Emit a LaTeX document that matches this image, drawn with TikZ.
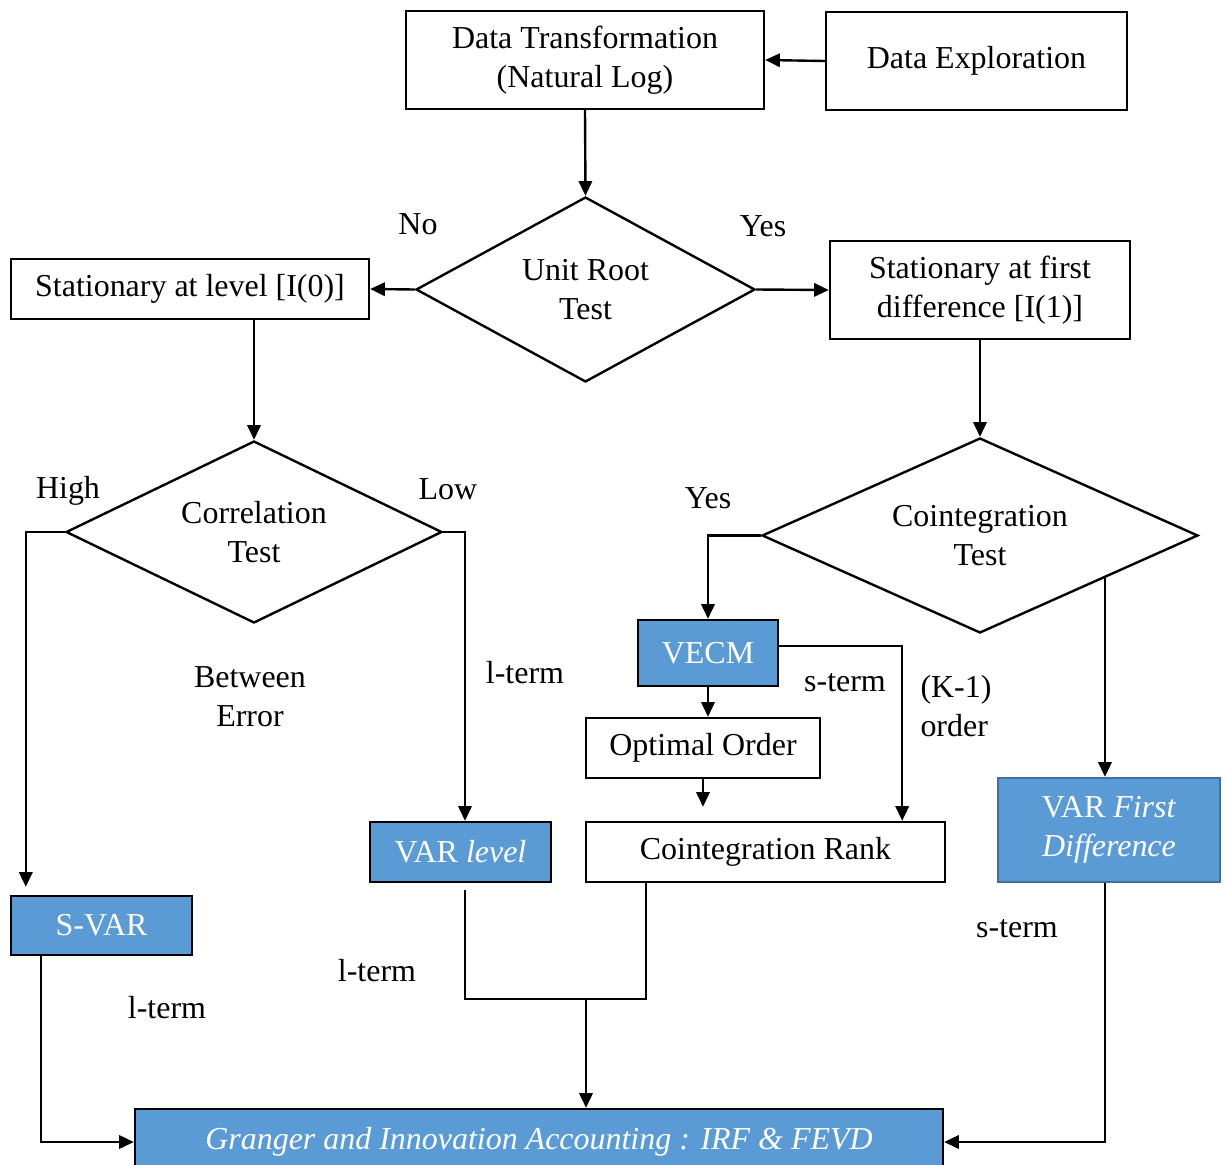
\documentclass[tikz,border=0pt]{standalone}
\usepackage{fontspec}
\setmainfont{Liberation Serif}
\usetikzlibrary{shapes.geometric,arrows.meta,calc}
\definecolor{varblue}{HTML}{5B9BD5}
\definecolor{varedge}{HTML}{41719C}
\newcommand{\pu}{0.0132cm}
\tikzset{
	box/.style={shape=rectangle, draw, line width=0.9pt, inner sep=0pt, align=center},
	bluebox/.style={box, fill=varblue, text=white},
	decision/.style={shape=diamond, draw, line width=0.9pt, inner sep=0pt, align=center},
	arr/.style={line width=0.9pt, -{Triangle[length=5.5pt, width=5pt]}},
	lbl/.style={align=center, inner sep=0pt},
}
\begin{document}
\begin{tikzpicture}[x=\pu, y=-\pu, font=\fontsize{12}{14.6}\selectfont]
			\useasboundingbox (0,0) rectangle (1227,1164);
			\clip (0,0) rectangle (1227,1164);
			\node[box, minimum width=358*\pu, minimum height=98*\pu](trans) at (585,60){Data Transformation\\(Natural Log)};
			\node[box, minimum width=301*\pu, minimum height=98*\pu](explore) at (976.5,61){Data Exploration};
			\node[decision, aspect=1.83, minimum width=339*\pu, minimum height=185*\pu](unit) at (585.5,289.5){Unit Root\\Test};
			\node[box, minimum width=358*\pu, minimum height=60*\pu](level) at (190,289){Stationary at level [I(0)]};
			\node[box, minimum width=300*\pu, minimum height=98*\pu](firstdiff) at (980,290){Stationary at first\\difference [I(1)]};
			\node[decision, aspect=2.07, minimum width=376*\pu, minimum height=182*\pu](corr) at (254,532){Correlation\\Test};
			\node[decision, aspect=2.24, minimum width=436*\pu, minimum height=195*\pu](coint) at (980,535.5){Cointegration\\Test};
			\node[bluebox, minimum width=140*\pu, minimum height=66*\pu](vecm) at (708,653){VECM};
			\node[box, minimum width=234*\pu, minimum height=60*\pu](optimal) at (703,748){Optimal Order};
			\node[box, minimum width=359*\pu, minimum height=60*\pu](rank) at (765.5,852){Cointegration Rank};
			\node[bluebox, draw=varedge, minimum width=222*\pu, minimum height=104*\pu](varfirst) at (1109,830){VAR \textit{First}\\\textit{Difference}};
			\node[bluebox, minimum width=181*\pu, minimum height=60*\pu](varlevel) at (460.5,852){VAR \textit{level}};
			\node[bluebox, minimum width=181*\pu, minimum height=59*\pu](svar) at (101.5,925.5){S-VAR};
			\node[bluebox, minimum width=808*\pu, minimum height=66*\pu](granger) at (539,1142){\textit{Granger and Innovation Accounting : IRF \& FEVD}};
			\node[lbl](no) at (418,224){No};
			\node[lbl](yesright) at (763,226){Yes};
			\node[lbl](high) at (68,491){High};
			\node[lbl](low) at (448,489){Low};
			\node[lbl](yesleft) at (708,498){Yes};
			\node[lbl](between) at (250,697){Between\\Error};
			\node[lbl](ltermlow) at (525,673){l-term};
			\node[lbl](stermvecm) at (845,683){s-term};
			\node[lbl, align=left](korder) at (956,706){(K-1)\\order};
			\node[lbl](stermfirst) at (1017,929){s-term};
			\node[lbl](ltermlevel) at (377,971){l-term};
			\node[lbl](ltermsvar) at (167,1008){l-term};
			\coordinate (svarin) at ([xshift=16*\pu, yshift=8*\pu]svar.north west);
			\coordinate (ce) at ($(coint.south)!0.57!(coint.east)$);
			\coordinate (merge) at (586,999);
			\draw[arr] (explore.west) -- (trans.east);
			\draw[arr] (trans.south) -- (unit.north);
			\draw[arr] (unit.west) -- (level.east);
			\draw[arr] (unit.east) -- (firstdiff.west);
			\draw[arr] (level.south -| corr.north) -- (corr.north);
			\draw[arr] (firstdiff.south -| coint.north) -- (coint.north);
			\draw[arr] (corr.west) -| (svarin);
			\draw[arr] (corr.east) -| ([xshift=4.5*\pu]varlevel.north);
			\draw[arr] (coint.west) -| (vecm.north);
			\draw[arr] ([yshift=7*\pu]vecm.east) -| ([xshift=-44*\pu]rank.north east);
			\draw[arr] (vecm.south) -- (optimal.north -| vecm.south);
			\draw[arr, shorten >=14*\pu] (optimal.south) -- (optimal.south |- rank.north);
			\draw[arr] (ce) -- (ce |- varfirst.north);
			\draw[arr] (ce |- varfirst.south) |- (granger.east);
			\draw[arr] ([xshift=31*\pu]svar.south west) |- (granger.west);
			\draw[line width=0.9pt] ([xshift=4.5*\pu, yshift=-7*\pu]varlevel.south) |- (merge);
			\draw[line width=0.9pt] ([xshift=61*\pu]rank.south west) |- (merge);
			\draw[arr] (merge) -- (merge |- granger.north);
		\end{tikzpicture}
\end{document}
